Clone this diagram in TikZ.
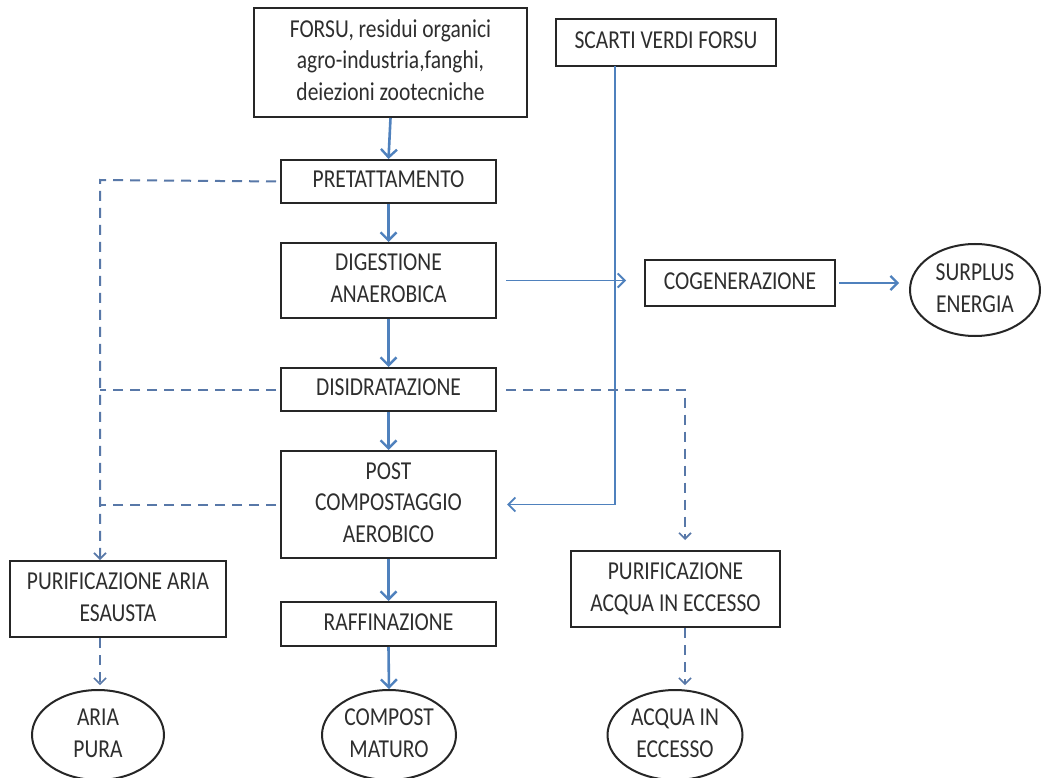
\documentclass[tikz,border=0pt]{standalone}
\usepackage{fontspec}
\setmainfont{Carlito}
\usetikzlibrary{arrows.meta,shapes.geometric,calc}
\definecolor{flow}{HTML}{4F81BD}
\definecolor{dash}{HTML}{5878A8}
\definecolor{txt}{HTML}{2E2E2E}
\newcommand\vs[1]{\scalebox{1}[1.2]{\begin{tabular}{@{}c@{}}#1\end{tabular}}}
\begin{document}
\begin{tikzpicture}[x=1pt,y=-1pt,
  every node/.style={font=\fontsize{21.5}{26.5}\selectfont, text=txt, align=center, inner sep=0pt},
  box/.style={draw=black!85, line width=2pt, rectangle},
  oval/.style={draw=black!85, line width=2pt, ellipse},
  mainflow/.style={draw=flow, line width=2.6pt, -{Straight Barb[length=8pt,width=16pt,line width=2.4pt]}},
  thinflow/.style={draw=flow, line width=1.7pt},
  dashflow/.style={draw=dash, line width=2pt, dash pattern=on 10pt off 7pt},
  dashtip/.style={-{Straight Barb[length=6pt,width=12pt,line width=1.6pt]}}
]
\useasboundingbox (0,0) rectangle (1045,778);
\fill[white] (0,0) rectangle (1045,778);

\node[box, minimum width=273, minimum height=109] (forsu) at (390.5,62.5) {\vs{FORSU, residui organici\\agro-industria,fanghi,\\deiezioni zootecniche}};
\node[box, minimum width=220, minimum height=47] (scarti) at (666,42.5) {\vs{SCARTI VERDI FORSU}};
\node[box, minimum width=215, minimum height=43] (pre) at (388.5,181.5) {\vs{PRETATTAMENTO}};
\node[box, minimum width=215, minimum height=75] (dig) at (388.5,280.5) {\vs{DIGESTIONE\\ANAEROBICA}};
\node[box, minimum width=190, minimum height=46] (cog) at (740,283) {\vs{COGENERAZIONE}};
\node[oval, minimum width=130, minimum height=92] (surplus) at (975,290) {\vs{SURPLUS\\ENERGIA}};
\node[box, minimum width=215, minimum height=43] (dis) at (388.5,389.5) {\vs{DISIDRATAZIONE}};
\node[box, minimum width=215, minimum height=107] (post) at (388.5,504.5) {\vs{POST\\COMPOSTAGGIO\\AEROBICO}};
\node[box, minimum width=215, minimum height=44] (raff) at (388.5,624) {\vs{RAFFINAZIONE}};
\node[box, minimum width=216, minimum height=76] (pura) at (118,599) {\vs{PURIFICAZIONE ARIA\\ESAUSTA}};
\node[box, minimum width=209, minimum height=76] (puacq) at (675.5,589) {\vs{PURIFICAZIONE\\ACQUA IN ECCESSO}};
\node[oval, minimum width=132, minimum height=88] (aria) at (98,735) {\vs{ARIA\\PURA}};
\node[oval, minimum width=134, minimum height=88] (compost) at (389,735) {\vs{COMPOST\\MATURO}};
\node[oval, minimum width=135, minimum height=88] (acqua) at (675,735) {\vs{ACQUA IN\\ECCESSO}};

% main flow
\draw[mainflow] (forsu.south) -- (pre.north);
\draw[mainflow] (pre.south) -- (dig.north);
\draw[mainflow] (dig.south) -- (dis.north);
\draw[mainflow] (dis.south) -- (post.north);
\draw[mainflow] (post.south) -- (raff.north);
\draw[mainflow] (raff.south) -- (compost.north);

% biogas branch
\draw[thinflow, -{Straight Barb[length=7pt,width=14pt,line width=1.8pt]}, shorten <=9pt, shorten >=18pt] (dig.east) -- (dig.east -| cog.west);
\draw[draw=flow, line width=2.6pt, -{Straight Barb[length=7pt,width=14pt,line width=2.2pt]}, shorten <=3pt, shorten >=10pt] (cog.east) -- (cog.east -| surplus.west);

% green waste
\coordinate (sc) at (615,66);
\draw[thinflow, -{Straight Barb[length=7pt,width=14pt,line width=1.8pt]}, shorten >=10pt] (sc) -- (sc |- post.east) -- (post.east);

% dashed air lines
\coordinate (lc) at (100,180);
\draw[dashflow, dashtip, shorten <=4pt] (pre.west) -- (lc) -- (lc |- pura.north);
\draw[dashflow, shorten <=4pt] (dis.west) -- (dis.west -| lc);
\draw[dashflow, shorten <=4pt] (post.west) -- (post.west -| lc);
\draw[dashflow, dashtip, shorten >=4pt] (pura.south -| lc) -- (lc |- aria.north);

% dashed water lines
\coordinate (rc) at (685,389.5);
\draw[dashflow, dashtip, shorten <=9pt, shorten >=10pt] (dis.east) -- (rc) -- (rc |- puacq.north);
\draw[dashflow, dashtip, shorten >=4pt] (puacq.south -| rc) -- (rc |- acqua.north);
\end{tikzpicture}
\end{document}
